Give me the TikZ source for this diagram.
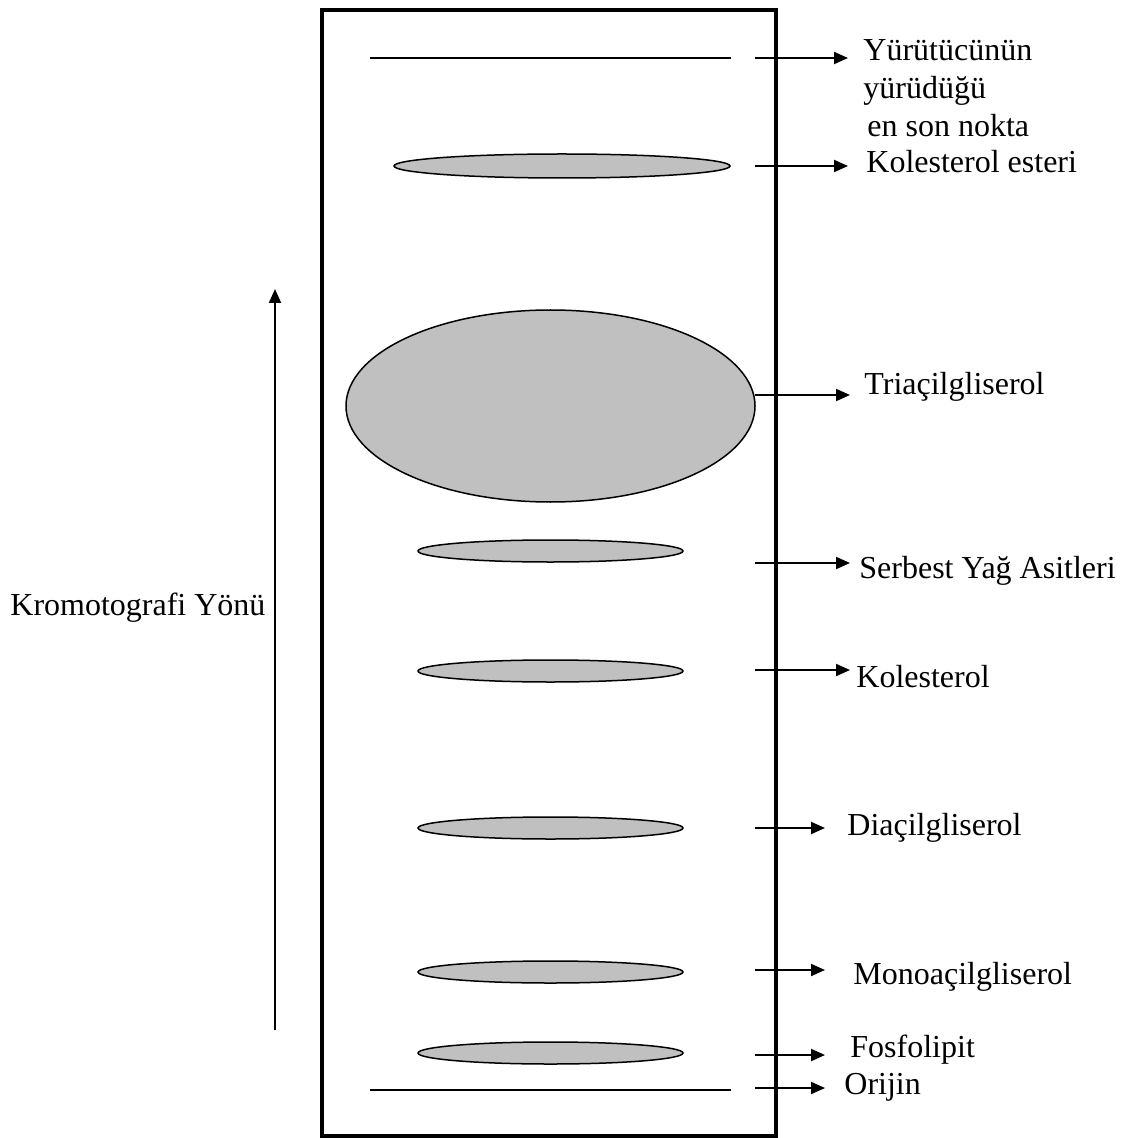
\documentclass[tikz,border=0pt]{standalone}
\usepackage{fontspec}
\setmainfont{Liberation Serif}
\usetikzlibrary{shapes.geometric,arrows.meta}
\definecolor{spotgray}{RGB}{192,192,192}

\begin{document}
\begin{tikzpicture}[x=0.5pt,y=-0.5pt,
    spot/.style = {draw, ellipse, fill=spotgray, line width=0.75pt, inner sep=0pt, minimum width=132.5pt, minimum height=11pt},
    lbl/.style = {anchor=base west, inner sep=0pt, font=\fontsize{16}{19}\selectfont},
    arr/.style = {-{Triangle[length=7pt,width=6pt]}, line width=1pt}]
    \useasboundingbox (0,0) rectangle (1127,1138);

    % plate
    \draw[line width=2pt] (322,10) rectangle (776,1136);

    % solvent front and origin
    \coordinate (front l) at (370,58);
    \coordinate (front r) at (731,58);
    \coordinate (orig l) at (370,1090);
    \coordinate (orig r) at (731,1090);
    \draw[line width=1pt] (front l) -- (front r);
    \draw[line width=1pt] (orig l) -- (orig r);

    % spots
    \node[spot, minimum width=168pt, minimum height=12pt] (ester) at (562,166) {};
    \node[spot, minimum width=204.5pt, minimum height=96pt] (tag) at (550.5,406) {};
    \node[spot] (ffa) at (550.5,551) {};
    \node[spot] (chol) at (550.5,671) {};
    \node[spot] (dag) at (550.5,828) {};
    \node[spot] (mag) at (550.5,972) {};
    \node[spot] (pl) at (550.5,1053) {};

    % labels
    \node[lbl, align=left] (front t) at (863,137) {Yürütücünün\\yürüdüğü\\\hspace{2pt}en son nokta};
    \node[lbl] (ester t) at (866,173) {Kolesterol esteri};
    \node[lbl] (tag t) at (864,394) {Triaçilgliserol};
    \node[lbl] (ffa t) at (859,578) {Serbest Yağ Asitleri};
    \node[lbl] (chol t) at (856,687) {Kolesterol};
    \node[lbl] (dag t) at (847,835) {Diaçilgliserol};
    \node[lbl] (mag t) at (853,984) {Monoaçilgliserol};
    \node[lbl] (pl t) at (850,1057) {Fosfolipit};
    \node[lbl] (orig t) at (844,1094) {Orijin};

    \foreach \n/\ya/\xt in {front/58/848, ester/166/848, tag/395/850, ffa/563/850, chol/670/850,
                            dag/828/825, mag/970/825, pl/1055/825, orig/1088/825} {
        \coordinate (\n s) at (755,\ya);
        \coordinate (\n e) at (\xt,\ya);
        \draw[arr] (\n s) -- (\n e);
    }

    % direction
    \coordinate (dir s) at (275,1030);
    \coordinate (dir e) at (275,289);
    \draw[arr] (dir s) -- (dir e);
    \node[lbl] (dir t) at (10,615) {Kromotografi Yönü};
\end{tikzpicture}
\end{document}
